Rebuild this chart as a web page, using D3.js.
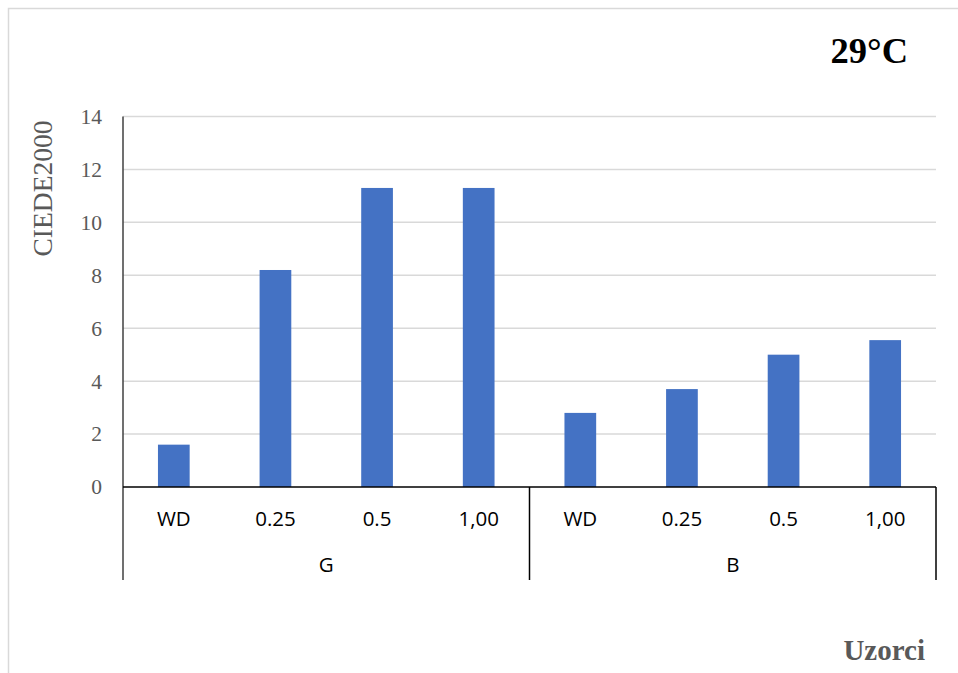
<!DOCTYPE html>
<html>
<head>
<meta charset="utf-8">
<script src="https://cdn.jsdelivr.net/npm/d3@7"></script>
<style>
  body { margin: 0; background: #fff; }
</style>
</head>
<body>
<div id="chart"></div>
<script>
// data
const groups = ["G", "B"];
const subLabels = ["WD", "0.25", "0.5", "1,00"];
const valuesG = [1.6, 8.2, 11.3, 11.3];
const valuesB = [2.8, 3.7, 5.0, 5.55];
const yTicks = [0, 2, 4, 6, 8, 10, 12, 14];

const W = 958, H = 673;
const margin = { top: 116.5, right: 22, bottom: 186, left: 123 };
const width = W - margin.left - margin.right,
      height = H - margin.top - margin.bottom;

const svg = d3.select("#chart")
  .append("svg")
  .attr("width", W)
  .attr("height", H);

// outer chart-area border
svg.append("rect")
  .attr("x", 8.5).attr("y", 8.5)
  .attr("width", 980).attr("height", 720)
  .attr("fill", "none")
  .attr("stroke", "#d9d9d9")
  .attr("stroke-width", 1.5);

const g = svg.append("g")
  .attr("transform", `translate(${margin.left},${margin.top})`);

// flatten into rows
const data = [];
groups.forEach((grp, gi) => {
  const vals = gi === 0 ? valuesG : valuesB;
  subLabels.forEach((s, i) => data.push({ key: grp + "|" + s, group: grp, label: s, value: vals[i] }));
});

const x = d3.scaleBand()
  .domain(data.map(d => d.key))
  .range([0, width])
  .padding(0);

const y = d3.scaleLinear()
  .domain([0, 14])
  .range([height, 0]);

// gridlines
g.selectAll("line.grid")
  .data(yTicks.filter(t => t > 0))
  .enter()
  .append("line")
  .attr("class", "grid")
  .attr("x1", 0).attr("x2", width)
  .attr("y1", d => y(d)).attr("y2", d => y(d))
  .attr("stroke", "#d9d9d9")
  .attr("stroke-width", 1.5);

// bars
const barW = x.bandwidth() * 0.312;
g.selectAll("rect.bar")
  .data(data)
  .enter()
  .append("rect")
  .attr("class", "bar")
  .attr("x", d => x(d.key) + (x.bandwidth() - barW) / 2)
  .attr("y", d => y(d.value))
  .attr("width", barW)
  .attr("height", d => y(0) - y(d.value))
  .attr("fill", "#4472c4");

// y axis tick labels
const yAxis = g.append("g")
  .call(d3.axisLeft(y).tickValues(yTicks).tickSize(0).tickPadding(21));
yAxis.select(".domain").remove();
yAxis.selectAll("text")
  .attr("font-family", "'Liberation Serif', 'Times New Roman', serif")
  .attr("font-size", 21.5)
  .attr("fill", "#595959");

const catDepth = 93;

// y axis line (extends down through the category area)
g.append("line")
  .attr("x1", 0).attr("x2", 0)
  .attr("y1", 0).attr("y2", height + catDepth)
  .attr("stroke", "#404040")
  .attr("stroke-width", 1.5);

// x axis line
g.append("line")
  .attr("x1", 0).attr("x2", width)
  .attr("y1", height).attr("y2", height)
  .attr("stroke", "#000")
  .attr("stroke-width", 1.5);

// group separators
const groupEdges = [x(groups[0] + "|" + subLabels[0]),
                    x(groups[1] + "|" + subLabels[0]),
                    width];
g.selectAll("line.sep")
  .data(groupEdges.slice(1))
  .enter()
  .append("line")
  .attr("class", "sep")
  .attr("x1", d => d).attr("x2", d => d)
  .attr("y1", height).attr("y2", height + catDepth)
  .attr("stroke", "#000")
  .attr("stroke-width", 1.5);

// sub-category labels
const catFont = "'Open Sans', 'Noto Sans', sans-serif";
g.selectAll("text.sub")
  .data(data)
  .enter()
  .append("text")
  .attr("class", "sub")
  .attr("x", d => x(d.key) + x.bandwidth() / 2)
  .attr("y", height + 38.5)
  .attr("text-anchor", "middle")
  .attr("font-family", catFont)
  .attr("font-size", 20.5)
  .attr("fill", "#000")
  .text(d => d.label);

// group labels
g.selectAll("text.grp")
  .data(groups)
  .enter()
  .append("text")
  .attr("class", "grp")
  .attr("x", (d, i) => (groupEdges[i] + groupEdges[i + 1]) / 2)
  .attr("y", height + 85)
  .attr("text-anchor", "middle")
  .attr("font-family", catFont)
  .attr("font-size", 20.5)
  .attr("fill", "#000")
  .text(d => d);

// y axis title
svg.append("text")
  .attr("transform", "translate(51.5,188.5) rotate(-90)")
  .attr("text-anchor", "middle")
  .attr("font-family", "'Liberation Serif', 'Times New Roman', serif")
  .attr("font-size", 27.5)
  .attr("fill", "#595959")
  .text("CIEDE2000");

// title
svg.append("text")
  .attr("x", 908).attr("y", 63)
  .attr("text-anchor", "end")
  .attr("font-family", "'Liberation Serif', 'Times New Roman', serif")
  .attr("font-weight", "bold")
  .attr("font-size", 36.5)
  .attr("fill", "#000")
  .text("29°C");

// x axis title
svg.append("text")
  .attr("x", 925).attr("y", 660)
  .attr("text-anchor", "end")
  .attr("font-family", "'Liberation Serif', 'Times New Roman', serif")
  .attr("font-weight", "bold")
  .attr("font-size", 29)
  .attr("fill", "#595959")
  .text("Uzorci");
</script>
</body>
</html>
